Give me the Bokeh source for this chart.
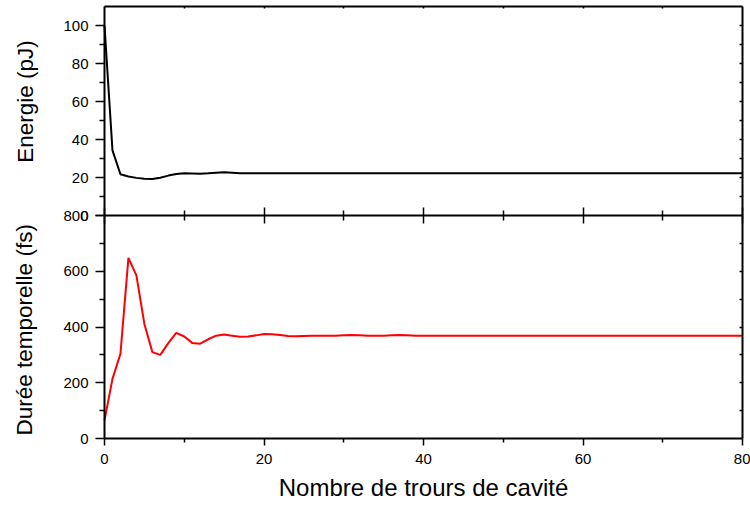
import math
from bokeh.plotting import figure
from bokeh.models import Range1d, LinearAxis, FixedTicker, Label
from bokeh.embed import file_html
from bokeh.resources import INLINE

# ---------------- data ----------------
tours = list(range(0, 81))

energie_pj = [
    100.0, 34.3, 21.7, 20.5, 19.8, 19.3, 19.2, 19.9, 21.0, 21.8,
    22.2, 22.1, 22.0, 22.2, 22.5, 22.7, 22.5, 22.2, 22.2, 22.3,
    22.3, 22.3, 22.3, 22.3, 22.3, 22.3, 22.3, 22.3, 22.3, 22.3,
    22.3, 22.3, 22.3, 22.3, 22.3, 22.3, 22.3, 22.3, 22.3, 22.3,
    22.3, 22.3, 22.3, 22.3, 22.3, 22.3, 22.3, 22.3, 22.3, 22.3,
    22.3, 22.3, 22.3, 22.3, 22.3, 22.3, 22.3, 22.3, 22.3, 22.3,
    22.3, 22.3, 22.3, 22.3, 22.3, 22.3, 22.3, 22.3, 22.3, 22.3,
    22.3, 22.3, 22.3, 22.3, 22.3, 22.3, 22.3, 22.3, 22.3, 22.3,
    22.3,
]

duree_fs = [
    65, 214, 304, 648, 585, 411, 310, 300, 342, 379,
    366, 343, 340, 356, 369, 373, 369, 365, 366, 370,
    375, 374, 371, 368, 367, 368, 369, 369, 369, 369,
    370, 371, 370, 369, 369, 369, 370, 371, 370, 369,
    369, 369, 369, 369, 369, 369, 369, 369, 369, 369,
    369, 369, 369, 369, 369, 369, 369, 369, 369, 369,
    369, 369, 369, 369, 369, 369, 369, 369, 369, 369,
    369, 369, 369, 369, 369, 369, 369, 369, 369, 369,
    369,
]

x_ticks = [0, 20, 40, 60, 80]
x_minor = [10, 30, 50, 70]
e_ticks = [0, 20, 40, 60, 80, 100]
e_minor = [10, 30, 50, 70, 90]
d_ticks = [0, 200, 400, 600, 800]
d_minor = [100, 300, 500, 700]

titre_x = "Nombre de trours de cavité"
titre_e = "Energie (pJ)"
titre_d = "Durée temporelle (fs)"

# ---------------- layout (pixels) ----------------
W, H = 750, 506
X0_PX, X1_PX = 104, 742        # x = 0 and x = 80
TOP_PX, MID_PX, BOT_PX = 6, 215, 438
E_TOP, X_MAX, D_TOP = 110.0, 80.0, 800.0

x_per_px = X_MAX / (X1_PX - X0_PX)
d_per_px = D_TOP / (BOT_PX - MID_PX)
e_per_px = E_TOP / (MID_PX - TOP_PX)

x_range = Range1d(-X0_PX * x_per_px, X_MAX + (W - X1_PX) * x_per_px)
d_range = Range1d(-(H - BOT_PX) * d_per_px, D_TOP + MID_PX * d_per_px)
e_range = Range1d(-(H - MID_PX) * e_per_px, MID_PX * e_per_px)

FONT = "Liberation Sans"

p = figure(width=W, height=H, x_range=x_range, y_range=d_range,
           output_backend="svg", toolbar_location=None,
           x_axis_location=None, y_axis_location=None,
           min_border=0, min_border_left=0, min_border_right=0,
           min_border_top=0, min_border_bottom=0)
p.extra_y_ranges = {"energie": e_range}
for g in p.grid:
    g.visible = False
p.background_fill_color = "white"
p.border_fill_color = "white"
p.outline_line_color = None


def axis(side, ticks, minor, loc, bounds, rng=None, mj_in=0, mj_out=0, mn_in=0, mn_out=0,
         line=True, labels=False, standoff=7):
    kw = {}
    if rng:
        kw["y_range_name"] = rng
    ax = LinearAxis(ticker=FixedTicker(ticks=ticks, minor_ticks=minor),
                    fixed_location=loc, bounds=bounds, **kw)
    ax.major_tick_in = mj_in
    ax.major_tick_out = mj_out
    ax.minor_tick_in = mn_in
    ax.minor_tick_out = mn_out
    ax.major_tick_line_width = 1.5
    ax.minor_tick_line_width = 1.5
    ax.major_tick_line_color = "black"
    ax.minor_tick_line_color = "black"
    ax.axis_line_color = "black" if line else None
    ax.axis_line_width = 2
    ax.major_label_text_font = FONT
    ax.major_label_text_font_size = "15px"
    ax.major_label_text_color = "black" if labels else None
    ax.major_label_standoff = standoff
    p.add_layout(ax, side)
    return ax


# upper panel: energy
axis("left", e_ticks, e_minor, 0, (0, E_TOP), "energie", mj_out=9, mn_out=5, labels=True)
axis("right", [], e_ticks[1:] + e_minor, X_MAX, (0, E_TOP), "energie", mn_in=3)
axis("above", [], x_minor + x_ticks[1:-1], E_TOP, (0, X_MAX), "energie", mn_in=2)
# separation line with crossing ticks
axis("below", x_ticks, x_minor, D_TOP, (0, X_MAX), mj_in=8, mj_out=8, mn_in=5, mn_out=5)
# lower panel: duration
axis("left", d_ticks, d_minor, 0, (0, D_TOP), mj_out=9, mn_out=5, labels=True)
axis("right", [], d_ticks[1:-1] + d_minor, X_MAX, (0, D_TOP), mn_in=3)
axis("below", x_ticks, x_minor, 0, (0, X_MAX), mj_out=7, mn_out=4, labels=True, standoff=8)

# data lines
p.line(tours, energie_pj, y_range_name="energie", line_color="black", line_width=2)
p.line(tours, duree_fs, line_color="#ff0000", line_width=2)

# titles
p.add_layout(Label(x=-9.9, y=60, y_range_name="energie", text=titre_e,
                   angle=math.pi / 2, text_align="center", text_baseline="middle",
                   text_font=FONT, text_font_size="22.5px", text_color="black"))
p.add_layout(Label(x=-10.0, y=390, text=titre_d,
                   angle=math.pi / 2, text_align="center", text_baseline="middle",
                   text_font=FONT, text_font_size="22.5px", text_color="black"))
p.add_layout(Label(x=40, y=-176, text=titre_x,
                   text_align="center", text_baseline="middle",
                   text_font=FONT, text_font_size="24px", text_color="black"))

open("out.html", "w").write(file_html(p, INLINE))
